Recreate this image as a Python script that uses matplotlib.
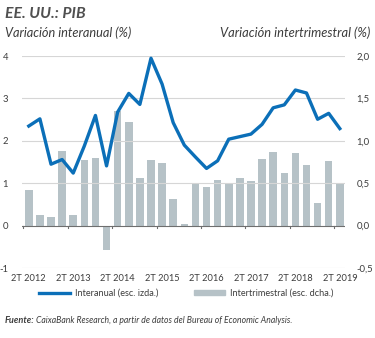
import numpy as np
import matplotlib.pyplot as plt
from matplotlib.patches import Patch
from matplotlib.lines import Line2D

plt.rcParams['font.family'] = ['Lato', 'DejaVu Sans']

years = ['2T 2012', '2T 2013', '2T 2014', '2T 2015', '2T 2016', '2T 2017', '2T 2018', '2T 2019']
# quarterly series 2T 2012 .. 2T 2019
interanual = [2.35, 2.52, 1.45, 1.56, 1.24, 1.88, 2.60, 1.41, 2.68, 3.12, 2.86, 3.95, 3.34,
              2.43, 1.90, 1.62, 1.35, 1.53, 2.04, 2.10, 2.16, 2.39, 2.78, 2.85, 3.20, 3.13,
              2.51, 2.65, 2.29]
intertrim = [0.42, 0.13, 0.10, 0.88, 0.12, 0.78, 0.80, -0.29, 1.35, 1.22, 0.56, 0.78, 0.74,
             0.32, 0.02, 0.50, 0.46, 0.535, 0.50, 0.56, 0.53, 0.785, 0.87, 0.625, 0.86, 0.72,
             0.27, 0.76, 0.50]

blue = '#0b6fb8'
grey = '#b6c2c7'
txt = '#3c3c3c'

fig = plt.figure(figsize=(3.75, 3.38), dpi=100)
ax = fig.add_axes([0.059, 0.207, 0.862, 0.627])
ax2 = ax.twinx()

x = np.arange(len(interanual))
ax2.bar(x, intertrim, width=0.68, color=grey, zorder=2)
ax.plot(x, interanual, color=blue, lw=2.4, zorder=5)
ax.set_zorder(ax2.get_zorder() + 1)
ax.patch.set_visible(False)

ax.set_ylim(-1, 4)
ax2.set_ylim(-0.5, 2.0)
ax.set_xlim(-0.6, 28.5)

for v in [-1, 1, 2, 3, 4]:
    ax.axhline(v, color='#d6d6d6', lw=0.8, zorder=0)
ax.axhline(0, color='#6e6e6e', lw=0.8, zorder=1)

for s in ['top', 'right', 'left', 'bottom']:
    ax.spines[s].set_visible(False)
    ax2.spines[s].set_visible(False)

ax.set_yticks([-1, 0, 1, 2, 3, 4])
ax.set_yticklabels(['-1', '0', '1', '2', '3', '4'])
ax2.set_yticks([-0.5, 0, 0.5, 1.0, 1.5, 2.0])
ax2.set_yticklabels(['-0,5', '0,0', '0,5', '1,0', '1,5', '2,0'])
ax.tick_params(axis='y', length=0, labelsize=6.8, colors=txt, pad=10)
ax2.tick_params(axis='y', length=0, labelsize=6.8, colors=txt, pad=8)

ax.set_xticks(np.arange(0, 29, 4))
ax.set_xticklabels(years)
ax.tick_params(axis='x', length=0, labelsize=6.7, colors=txt, pad=4)
for t in np.arange(-0.5, 28, 4):
    ax.plot([t, t], [0, -0.06], color='#6e6e6e', lw=0.8, clip_on=False, zorder=1)

fig.text(0.013, 0.958, 'EE. UU.: PIB', fontsize=11.3, fontweight='bold', style='italic',
         color='#505050', va='center')
fig.text(0.013, 0.902, 'Variación interanual (%)', fontsize=9.2, style='italic', color=txt, va='center')
fig.text(0.987, 0.902, 'Variación intertrimestral (%)', fontsize=9.3, style='italic', color=txt,
         va='center', ha='right')

handles = [Line2D([], [], color=blue, lw=2.4), Patch(color=grey)]
fig.legend(handles, ['Interanual (esc. izda.)', 'Intertrimestral (esc. dcha.)'],
           loc='center', bbox_to_anchor=(0.497, 0.132), ncol=2, frameon=False,
           fontsize=6.6, handlelength=3.4, handleheight=0.5, handletextpad=0.55,
           columnspacing=3.9, labelcolor=txt)

fig.text(0.013, 0.052, 'Fuente:', fontsize=6.6, fontweight='bold', style='italic', color=txt,
         va='center')
fig.text(0.097, 0.052, 'CaixaBank Research, a partir de datos del Bureau of Economic Analysis.',
         fontsize=6.2, style='italic', color=txt, va='center')

fig.savefig('out.png', dpi=100)
